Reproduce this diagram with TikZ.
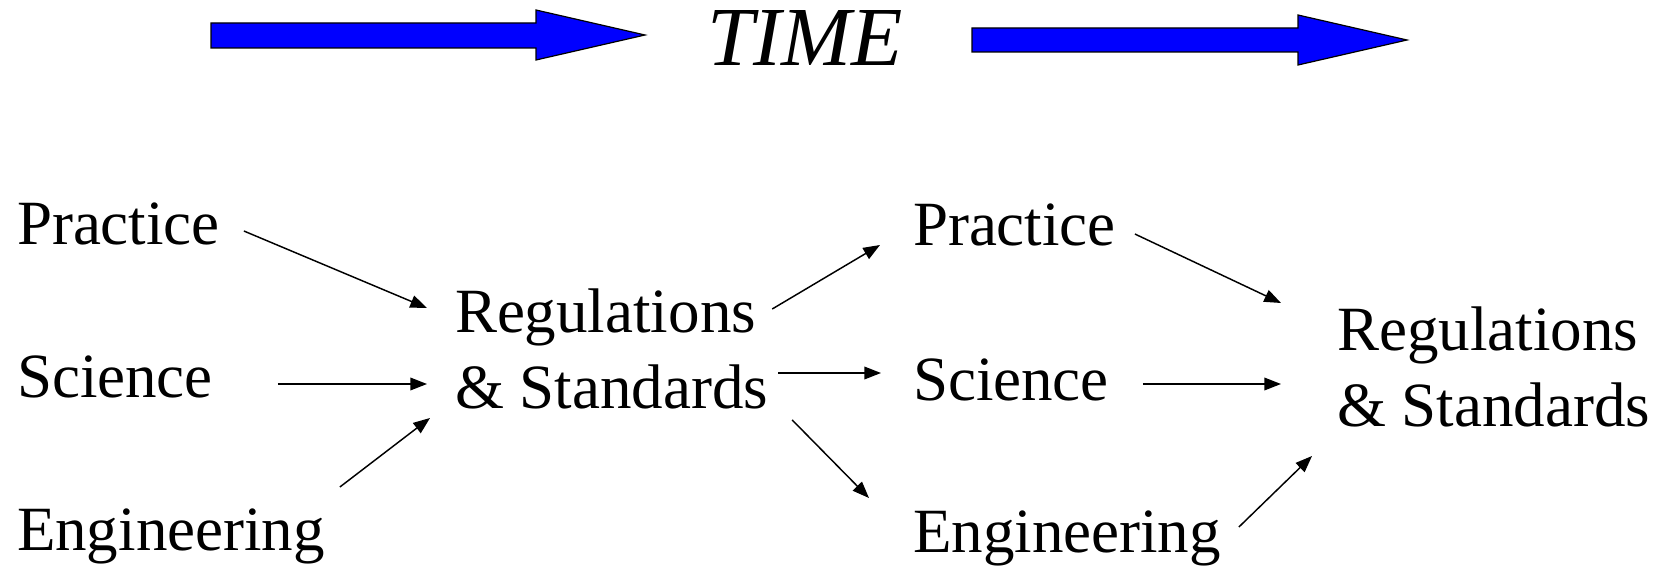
\documentclass[tikz,border=0pt]{standalone}
\usepackage{fontspec}
\setmainfont{Liberation Serif}
\usetikzlibrary{arrows.meta,calc}
\tikzset{
  lbl/.style={anchor=base west, inner sep=0pt, outer sep=0pt, font=\fontsize{47.25}{57}\selectfont},
  conn/.style={line width=1.1pt, -{Triangle[length=12.5pt,width=9.5pt]}},
  bigarrow/.style={fill=blue, draw=black, line width=0.9pt, line join=miter}
}
\newcommand{\twoline}[2]{\begin{tabular}[t]{@{}l@{}}#1\\#2\end{tabular}}
\begin{document}
\begin{tikzpicture}[x=0.75pt,y=-0.75pt]
\useasboundingbox (0,0) rectangle (1671,567);
% time arrows
\draw[bigarrow] (211,23) -- (536,23) -- (536,10) -- (645,35) -- (536,60) -- (536,48) -- (211,48) -- cycle;
\draw[bigarrow] (972,28) -- (1298,28) -- (1298,15) -- (1407,40) -- (1298,65) -- (1298,52) -- (972,52) -- cycle;
\node[anchor=base west, inner sep=0pt, font=\fontsize{63}{70}\selectfont\itshape] (time) at (707,65) {TIME};
% nodes
\node[lbl] (p1) at (17,244) {Practice};
\node[lbl] (s1) at (17,397) {Science};
\node[lbl] (e1) at (17,550) {Engineering};
\node[lbl] (r1) at (455,332) {\twoline{Regulations}{\& Standards}};
\node[lbl] (p2) at (913,245) {Practice};
\node[lbl] (s2) at (913,400) {Science};
\node[lbl] (e2) at (913,552) {Engineering};
\node[lbl] (r2) at (1337,350) {\twoline{Regulations}{\& Standards}};
% connectors
\draw[conn] ($(p1.base east)+(24,-13)$) -- ($(r1.base west)+(-28,-24)$);
\draw[conn] ($(s1.base east)+(65,-13)$) -- ($(r1.base west)+(-28,52)$);
\draw[conn] ($(e1.base east)+(15,-63)$) -- ($(r1.base west)+(-25,86)$);
\draw[conn] ($(r1.base east)+(4,-23)$) -- ($(p2.base west)+(-33,0)$);
\draw[conn] ($(r1.base east)+(10,41)$) -- ($(s2.base west)+(-32,-27)$);
\draw[conn] ($(r1.base east)+(24,88)$) -- ($(e2.base west)+(-44,-54)$);
\draw[conn] ($(p2.base east)+(19,-11)$) -- ($(r2.base west)+(-56,-47)$);
\draw[conn] ($(s2.base east)+(34,-16)$) -- ($(r2.base west)+(-56,34)$);
\draw[conn] ($(e2.base east)+(18,-25)$) -- ($(r2.base west)+(-25,106)$);
\end{tikzpicture}
\end{document}
